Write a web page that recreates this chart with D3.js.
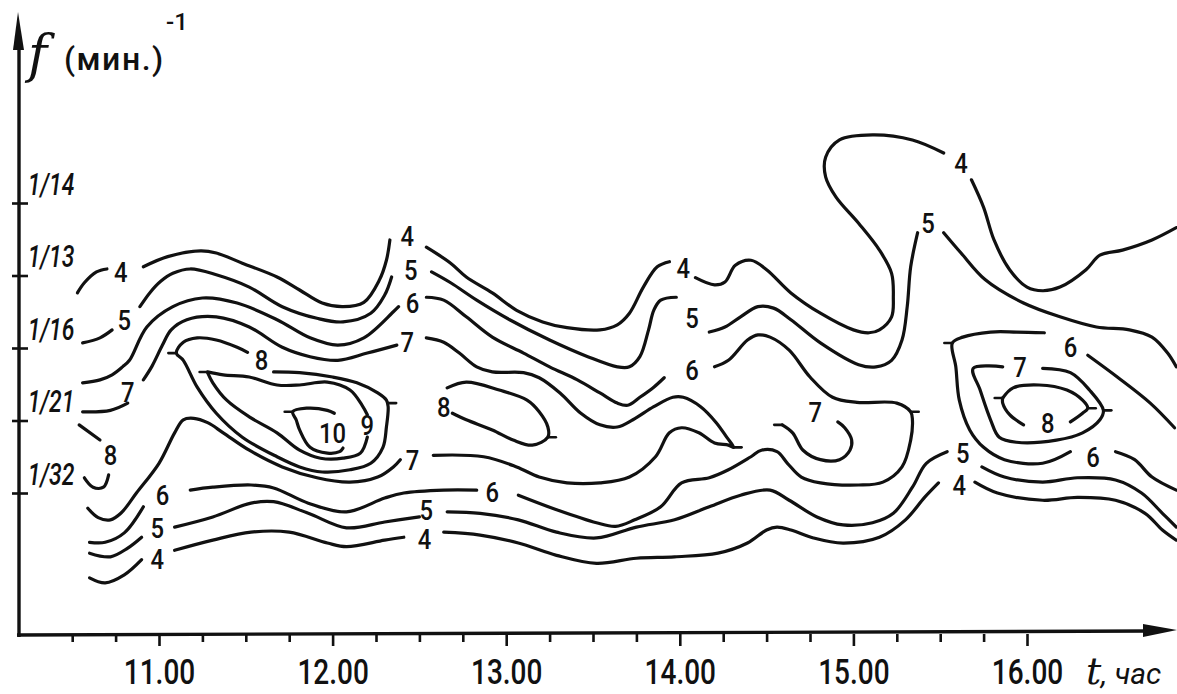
<!DOCTYPE html>
<html>
<head>
  <meta charset="utf-8">
  <script src="https://d3js.org/d3.v7.min.js"></script>
  <style>
    body { margin:0; padding:0; background:#fff; }
    .iso { fill:none; stroke:#111; stroke-width:3.2; stroke-linecap:round; stroke-linejoin:round; }
    .lbl { font-family: Roboto, "DejaVu Sans", sans-serif; font-size:28px; font-weight:500; fill:#111; }
  </style>
</head>
<body>
<svg width="1177" height="694"></svg>
<script>
var width = 1177, height = 694;

// time axis: a tick every 15 min, hours get a label
var timeTicks = d3.range(10.5, 16.01, 0.25);
// frequency rows, bottom to top
var freqRows = [1, 2, 3, 4, 5];
var freqLabels = ["1/32", "1/21", "1/16", "1/13", "1/14"];

// isolines, each piece is [t (hours), f row]
var iso4 = [
  [[10.53,3.76],[10.57,3.90],[10.64,4.05],[10.70,4.09]],
  [[10.91,4.12],[11.05,4.26],[11.24,4.34],[11.33,4.31],[11.48,4.17],[11.68,3.98],[11.81,3.80],[11.94,3.62],[12.06,3.57],[12.18,3.63],[12.27,3.94],[12.31,4.21],[12.33,4.49]],
  [[12.54,4.39],[12.68,4.17],[12.77,3.98],[12.92,3.76],[13.06,3.52],[13.21,3.36],[13.35,3.28],[13.54,3.25],[13.64,3.32],[13.71,3.48],[13.79,3.84],[13.87,4.12],[13.94,4.19]],
  [[14.09,3.97],[14.20,3.87],[14.26,3.91],[14.32,4.14],[14.41,4.21],[14.50,4.08],[14.64,3.76],[14.81,3.48],[15.00,3.25],[15.09,3.21],[15.15,3.25],[15.22,3.43],[15.23,3.70],[15.22,4.03],[15.15,4.35],[15.03,4.72],[14.90,5.08],[14.84,5.36],[14.84,5.63],[14.92,5.87],[15.11,5.94],[15.34,5.87],[15.52,5.69]],
  [[15.68,5.32],[15.75,4.94],[15.81,4.49],[15.90,4.08],[16.00,3.84],[16.09,3.79],[16.19,3.84],[16.34,4.08],[16.42,4.28],[16.55,4.35],[16.72,4.49],[16.86,4.66]],
  [[10.60,-0.17],[10.69,-0.24],[10.80,-0.13],[10.90,0.08]],
  [[11.09,0.21],[11.31,0.35],[11.53,0.46],[11.75,0.46],[11.97,0.31],[12.08,0.26],[12.30,0.35],[12.41,0.39]],
  [[12.64,0.46],[12.85,0.42],[13.07,0.31],[13.29,0.14],[13.52,0.03],[13.75,0.10],[13.97,0.12],[14.22,0.17],[14.39,0.31],[14.50,0.49],[14.56,0.53],[14.64,0.49],[14.77,0.38],[14.94,0.31],[15.15,0.39],[15.30,0.63],[15.41,0.94],[15.49,1.14]],
  [[15.70,1.15],[15.83,1.00],[16.09,0.90],[16.29,0.94],[16.51,0.90],[16.68,0.72],[16.78,0.49],[16.86,0.35]]
];
var iso5 = [
  [[10.56,3.07],[10.66,3.14],[10.73,3.25]],
  [[10.89,3.57],[10.95,3.77],[11.01,3.92],[11.08,4.03],[11.18,4.09],[11.33,4.01],[11.52,3.84],[11.71,3.57],[11.91,3.41],[12.06,3.36],[12.22,3.48],[12.30,3.73],[12.34,3.98]],
  [[12.57,4.05],[12.68,3.90],[12.83,3.66],[13.02,3.39],[13.25,3.11],[13.47,2.88],[13.64,2.74],[13.71,2.74],[13.77,2.88],[13.82,3.25],[13.85,3.52],[13.89,3.66],[13.98,3.70]],
  [[14.17,3.22],[14.26,3.29],[14.35,3.43],[14.45,3.57],[14.54,3.55],[14.64,3.39],[14.81,3.07],[15.03,2.77],[15.13,2.74],[15.22,2.83],[15.28,3.11],[15.31,3.57],[15.33,4.12],[15.37,4.59]],
  [[15.52,4.59],[15.62,4.31],[15.76,3.94],[15.98,3.62],[16.19,3.43],[16.40,3.29],[16.59,3.25],[16.72,3.15],[16.81,2.93],[16.86,2.74]],
  [[10.60,0.17],[10.72,0.12],[10.82,0.24],[10.90,0.39]],
  [[11.09,0.53],[11.31,0.67],[11.53,0.86],[11.66,0.88],[11.86,0.72],[12.08,0.52],[12.30,0.60],[12.50,0.67]],
  [[12.66,0.74],[12.85,0.72],[13.07,0.63],[13.29,0.46],[13.52,0.38],[13.75,0.53],[13.97,0.63],[14.17,0.81],[14.35,0.97],[14.52,1.04],[14.63,0.90],[14.79,0.67],[14.94,0.56],[15.11,0.59],[15.23,0.72],[15.34,1.08],[15.42,1.41],[15.54,1.57]],
  [[15.74,1.36],[15.87,1.22],[16.09,1.15],[16.29,1.21],[16.51,1.18],[16.66,1.00],[16.78,0.72],[16.86,0.53]]
];
var iso6 = [
  [[10.56,2.52],[10.66,2.56],[10.73,2.63],[10.79,2.74],[10.83,2.83],[10.93,3.29],[11.08,3.57],[11.25,3.69],[11.45,3.62],[11.68,3.39],[11.87,3.14],[12.03,3.04],[12.18,3.14],[12.35,3.50],[12.38,3.57]],
  [[12.54,3.70],[12.64,3.66],[12.77,3.43],[12.92,3.15],[13.10,2.93],[13.25,2.74],[13.41,2.56],[13.54,2.38],[13.64,2.24],[13.70,2.21],[13.77,2.32],[13.85,2.46],[13.91,2.59]],
  [[14.20,2.74],[14.28,2.83],[14.39,3.11],[14.45,3.18],[14.52,3.15],[14.63,2.97],[14.75,2.60],[14.88,2.32],[15.02,2.25],[15.25,2.24],[15.33,2.12],[15.34,2.01],[15.33,1.73],[15.28,1.36],[15.17,1.15],[15.03,1.11],[14.81,1.14],[14.70,1.22],[14.62,1.41],[14.56,1.57],[14.47,1.59],[14.41,1.50],[14.28,1.32],[14.17,1.21],[14.01,1.14],[13.89,0.81],[13.74,0.63],[13.63,0.54],[13.52,0.59],[13.29,0.77],[13.07,0.97]],
  [[12.83,1.04],[12.64,1.04],[12.41,1.00],[12.30,0.93],[12.08,0.74],[11.86,0.86],[11.66,1.07],[11.53,1.11],[11.31,1.08],[11.18,1.04]],
  [[10.91,0.81],[10.80,0.45],[10.69,0.32],[10.60,0.32]],
  [[16.25,1.57],[16.09,1.41],[15.87,1.46],[15.75,1.63],[15.67,1.87],[15.61,2.28],[15.59,2.74],[15.57,3.07],[15.63,3.15],[15.79,3.22],[15.94,3.22],[16.10,3.21]],
  [[16.35,2.90],[16.52,2.60],[16.71,2.24],[16.85,1.90]],
  [[16.51,1.57],[16.62,1.46],[16.72,1.22],[16.86,1.04]]
];
var iso7 = [
  [[10.56,2.12],[10.72,2.14],[10.82,2.24]],
  [[10.91,2.56],[10.96,2.75],[11.02,3.04],[11.07,3.25],[11.16,3.39],[11.33,3.43],[11.52,3.29],[11.71,3.01],[11.87,2.88],[12.03,2.83],[12.20,2.93],[12.37,3.04]],
  [[12.54,3.14],[12.64,3.08],[12.73,2.93],[12.83,2.74],[12.92,2.67],[13.10,2.66],[13.19,2.59],[13.31,2.38],[13.43,2.10],[13.54,1.94],[13.64,1.91],[13.73,2.01],[13.85,2.19],[13.96,2.32],[14.02,2.32],[14.12,2.19],[14.21,1.97],[14.27,1.77],[14.31,1.63],[14.28,1.66],[14.20,1.69],[14.11,1.83],[14.01,1.90],[13.94,1.83],[13.86,1.50],[13.71,1.22],[13.54,1.14],[13.35,1.14],[13.19,1.22],[13.06,1.36],[12.87,1.50],[12.58,1.52]],
  [[12.39,1.46],[12.35,1.36],[12.26,1.22],[12.10,1.15],[11.91,1.21],[11.71,1.36],[11.52,1.59],[11.37,1.83],[11.28,1.97],[11.20,2.03],[11.14,2.01],[11.09,1.83],[11.00,1.41],[10.87,1.00],[10.78,0.72],[10.72,0.63],[10.65,0.66],[10.59,0.79]],
  [[14.59,1.94],[14.65,1.83],[14.71,1.59],[14.81,1.46],[14.92,1.46],[14.98,1.59],[14.99,1.73],[14.95,1.90],[14.91,1.98]],
  [[15.86,2.74],[15.69,2.72],[15.73,2.42],[15.79,2.01],[15.84,1.77],[15.94,1.70],[16.17,1.73],[16.32,1.83],[16.42,2.01],[16.44,2.14],[16.36,2.42],[16.25,2.66],[16.09,2.72]]
];
var iso8 = [
  [[10.54,1.94],[10.66,1.73]],
  [[10.71,1.25],[10.68,1.08],[10.62,1.08],[10.57,1.21]],
  [[11.51,2.94],[11.45,3.01],[11.33,3.11],[11.22,3.14],[11.14,3.08],[11.10,2.93],[11.14,2.83],[11.22,2.46],[11.33,2.10],[11.48,1.77],[11.68,1.50],[11.81,1.36],[11.94,1.29],[12.10,1.32],[12.22,1.41],[12.29,1.63],[12.31,1.91],[12.32,2.19],[12.31,2.28],[12.26,2.38],[12.14,2.52],[12.00,2.60],[11.81,2.66],[11.66,2.67]],
  [[12.66,2.45],[12.77,2.53],[12.96,2.42],[13.12,2.28],[13.19,2.12],[13.24,1.91],[13.24,1.77],[13.15,1.66],[13.04,1.73],[12.92,1.87],[12.77,2.01],[12.69,2.10]],
  [[15.86,2.31],[15.92,2.45],[16.07,2.49],[16.23,2.42],[16.32,2.28],[16.35,2.17],[16.32,2.10],[16.25,1.98]],
  [[15.98,1.94],[15.90,2.08],[15.86,2.24],[15.86,2.31]]
];
var iso9 = [
  [[11.28,2.67],[11.37,2.63],[11.52,2.60],[11.68,2.49],[11.81,2.49],[11.97,2.53],[12.10,2.42],[12.17,2.21],[12.20,2.08]],
  [[12.20,1.77],[12.16,1.55],[12.06,1.48],[11.93,1.48],[11.81,1.59],[11.68,1.83],[11.52,2.05],[11.39,2.28],[11.31,2.52],[11.28,2.66]]
];
var iso10 = [
  [[12.01,2.10],[11.97,2.14],[11.85,2.17],[11.77,2.12],[11.79,2.01],[11.81,1.87],[11.87,1.63],[11.97,1.55],[12.04,1.57],[12.06,1.62]]
];

// short pen marks where a line was stopped: [t, f row, side]
var endMarks = [
  [11.10,2.93,-1],[12.32,2.24,1],[11.28,2.67,-1],[11.77,2.12,-1],[13.24,1.77,1],[14.31,1.63,1],
  [14.59,1.94,-1],[15.33,2.12,1],[15.57,3.07,-1],[15.86,2.31,-1],[16.35,2.17,1],[16.44,2.14,1]
];

// line labels: [text, t, f row]
var isoLabels = [
  ["4",10.78,4.05],["4",12.43,4.55],["4",14.02,4.10],["4",15.62,5.55],["4",10.99,0.09],["4",12.53,0.36],["4",15.61,1.11],
  ["5",10.80,3.39],["5",12.45,4.08],["5",14.07,3.41],["5",15.43,4.72],["5",10.99,0.52],["5",12.54,0.77],["5",15.63,1.55],
  ["6",12.46,3.62],["6",14.07,2.70],["6",12.92,1.01],["6",11.02,0.97],["6",16.25,3.01],["6",16.38,1.50],
  ["7",10.82,2.39],["7",12.43,3.08],["7",12.46,1.46],["7",14.78,2.12],["7",15.96,2.74],
  ["8",10.72,1.52],["8",11.59,2.83],["8",12.64,2.19],["8",16.12,1.97],
  ["9",12.20,1.94],
  ["10",12.00,1.83]
];

var svg = d3.select("svg");
var x = d3.scaleLinear().domain([11, 16]).range([159, 1027]);
var y = d3.scaleLinear().domain([1, 5]).range([493, 203]);

// axes lines + arrows
svg.append("path").attr("d", "M19,637 L19,40").attr("stroke", "#111").attr("stroke-width", 3.4);
svg.append("path").attr("d", "M18,12 L13,50 L24,50 Z").attr("fill", "#111");
svg.append("path").attr("d", "M17,635 L1150,631").attr("stroke", "#111").attr("stroke-width", 3.4);
svg.append("path").attr("d", "M1177,630 L1143,624 L1143,637 Z").attr("fill", "#111");

var gx = svg.append("g").attr("transform", "translate(0,634)")
  .call(d3.axisBottom(x).tickValues(timeTicks).tickSize(8)
    .tickFormat(function(d) { return d % 1 === 0 ? d + ".00" : ""; }));
gx.select(".domain").remove();
gx.selectAll(".tick line").attr("stroke", "#111").attr("stroke-width", 2.6)
  .attr("y2", function(d) { return d % 1 === 0 ? 12 : 8; });
gx.selectAll(".tick text").attr("y", 50).attr("dy", null).attr("fill", "#111")
  .attr("font-family", "Roboto, sans-serif").attr("font-size", 35).attr("font-weight", 500)
  .attr("transform", "scale(0.8,1)");

var gy = svg.append("g").attr("transform", "translate(19,0)")
  .call(d3.axisLeft(y).tickValues(freqRows).tickSize(7)
    .tickFormat(function(d) { return freqLabels[d - 1]; }));
gy.select(".domain").remove();
gy.selectAll(".tick line").attr("x1", 9).attr("stroke", "#111").attr("stroke-width", 2.6);
gy.selectAll(".tick text").attr("x", 12).attr("y", -9).attr("dy", null)
  .attr("text-anchor", "start").attr("fill", "#111")
  .attr("font-family", "Roboto, sans-serif").attr("font-style", "italic")
  .attr("font-size", 32).attr("font-weight", 500)
  .attr("transform", "scale(0.72,1)");

// titles
svg.append("text").attr("x", 28).attr("y", 72).attr("fill", "#111")
  .attr("font-family", "'DejaVu Serif', serif").attr("font-style", "italic").attr("font-size", 52).text("f");
svg.append("text").attr("x", 64).attr("y", 70).attr("fill", "#111")
  .attr("font-family", "Roboto, sans-serif").attr("font-size", 32).attr("font-weight", 500)
  .attr("letter-spacing", 1.5).text("(мин.)");
svg.append("text").attr("x", 166).attr("y", 30).attr("fill", "#111")
  .attr("font-family", "Roboto, sans-serif").attr("font-size", 24).attr("font-weight", 500).text("-1");

var tt = svg.append("text").attr("x", 1086).attr("y", 684).attr("fill", "#111");
tt.append("tspan").attr("font-family", "'DejaVu Serif', serif").attr("font-style", "italic")
  .attr("font-size", 38).text("t");
tt.append("tspan").attr("font-family", "Roboto, sans-serif").attr("font-style", "italic")
  .attr("font-size", 30).text(", час");

// isolines
var line = d3.line()
  .x(function(d) { return x(d[0]); })
  .y(function(d) { return y(d[1]); })
  .curve(d3.curveCatmullRom.alpha(0.5));

[iso4, iso5, iso6, iso7, iso8, iso9, iso10].forEach(function(set) {
  svg.append("g").selectAll("path").data(set).join("path")
    .attr("class", "iso").attr("d", line);
});

svg.append("g").selectAll("line").data(endMarks).join("line")
  .attr("x1", function(d) { return x(d[0]); })
  .attr("x2", function(d) { return x(d[0]) + d[2] * 8; })
  .attr("y1", function(d) { return y(d[1]); })
  .attr("y2", function(d) { return y(d[1]); })
  .attr("stroke", "#111").attr("stroke-width", 2.6).attr("stroke-linecap", "round");

svg.append("g").selectAll("text").data(isoLabels).join("text")
  .attr("class", "lbl")
  .attr("transform", function(d) { return "translate(" + x(d[1]) + "," + y(d[2]) + ") scale(0.85,1)"; })
  .attr("text-anchor", "middle").attr("dy", "0.36em")
  .text(function(d) { return d[0]; });
</script>
</body>
</html>
